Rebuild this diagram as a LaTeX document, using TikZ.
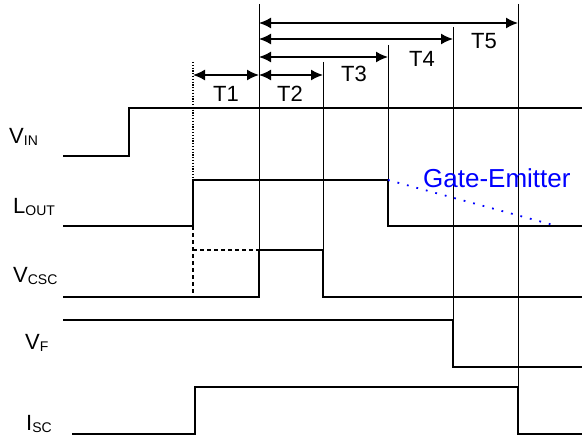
\documentclass[tikz,border=0pt]{standalone}
\usepackage{fontspec}
\setmainfont{Liberation Sans}
\usepackage{tikz}
\usepackage{xcolor}
\usetikzlibrary{arrows.meta,positioning}
\newcommand{\tdsig}[2]{#1\raisebox{-2pt}{\fontsize{14}{14}\selectfont #2}}
\definecolor{tdblue}{RGB}{0,0,255}
\definecolor{tdblack}{RGB}{0,0,0}
\tikzset{
  tdwave/.style={draw=tdblack, line width=2pt},
  tdgrid/.style={draw=tdblack, line width=1pt},
  tdspan/.style={{Latex[length=12pt,width=11pt]}-{Latex[length=12pt,width=11pt]}, line width=1.5pt, draw=tdblack},
  tdlabel/.style={anchor=base west, inner sep=0pt, font=\fontsize{22}{24}\selectfont},
  tdtime/.style={inner sep=0pt, font=\fontsize{22}{24}\selectfont},
  tdhint/.style={draw=tdblue, line width=1.8pt, dotted, dash pattern=on 1.8pt off 8pt}
}

\begin{document}
\begin{tikzpicture}[x=1pt, y=-1pt]
  \useasboundingbox (0,0) rectangle (582,436);
  % signal names
  \node[tdlabel] (vin) at (9,143) {\tdsig{V}{IN}};
  \node[tdlabel] (lout) at (13,213) {\tdsig{L}{OUT}};
  \node[tdlabel] (vcsc) at (13,282) {\tdsig{V}{CSC}};
  \node[tdlabel] (vf) at (25,349) {\tdsig{V}{F}};
  \node[tdlabel] (isc) at (26,430) {\tdsig{I}{SC}};
  % time marks
  \coordinate (ta) at (193,0);
  \coordinate (tb) at (259,0);
  \coordinate (tc) at (323,0);
  \coordinate (td) at (388,0);
  \coordinate (te) at (453,0);
  \coordinate (tf) at (518,0);
  % waveforms
  \draw[tdwave] (63,156) -- (129,156) -- (129,108) -- (582,108);
  \draw[tdwave] (63,226) -- (ta |- 0,226) -- (ta |- 0,180) -- (td |- 0,180)
    -- (td |- 0,226) -- (582,226);
  \draw[tdwave] (63,297) -- (tb |- 0,297) -- (tb |- 0,250) -- (tc |- 0,250)
    -- (tc |- 0,297) -- (582,297);
  \draw[tdwave] (63,320) -- (te |- 0,320) -- (te |- 0,367) -- (582,367);
  \draw[tdwave] (72,434) -- (195,434) -- (195,387) -- (tf |- 0,387)
    -- (tf |- 0,434) -- (582,434);
  % guide lines
  \draw[tdgrid] (tb |- 0,4) -- (tb |- 0,250);
  \draw[tdgrid] (tc |- 0,62) -- (tc |- 0,250);
  \draw[tdgrid] (td |- 0,45) -- (td |- 0,180);
  \draw[tdgrid] (te |- 0,27) -- (te |- 0,320);
  \draw[tdgrid] (tf |- 0,4) -- (tf |- 0,387);
  \draw[tdblack, line width=1.2pt, dash pattern=on 1.2pt off 1.6pt] (ta |- 0,62) -- (ta |- 0,180);
  \draw[tdblack, line width=2pt, dash pattern=on 4pt off 3pt] (ta |- 0,226) -- (ta |- 0,297);
  \draw[tdblack, line width=2pt, dash pattern=on 4pt off 3pt] (ta |- 0,250) -- (tb |- 0,250);
  % spans
  \draw[tdspan] (ta |- 0,75) -- (tb |- 0,75);
  \draw[tdspan] (tb |- 0,75) -- (tc |- 0,75);
  \draw[tdspan] (tb |- 0,57) -- (td |- 0,57);
  \draw[tdspan] (tb |- 0,39) -- (te |- 0,39);
  \draw[tdspan] (tb |- 0,23) -- (tf |- 0,23);
  \node[tdtime] (t1) at (226,94) {T1};
  \node[tdtime] (t2) at (290,94) {T2};
  \node[tdtime] (t3) at (354,74) {T3};
  \node[tdtime] (t4) at (422,59) {T4};
  \node[tdtime] (t5) at (484,41) {T5};
  % gate-emitter discharge
  \draw[tdhint] (td |- 0,180) -- (557,226);
  \node[anchor=base west, inner sep=0pt, text=tdblue, font=\fontsize{26}{28}\selectfont]
    (ge) at (423,187) {Gate-Emitter};
\end{tikzpicture}
\end{document}
